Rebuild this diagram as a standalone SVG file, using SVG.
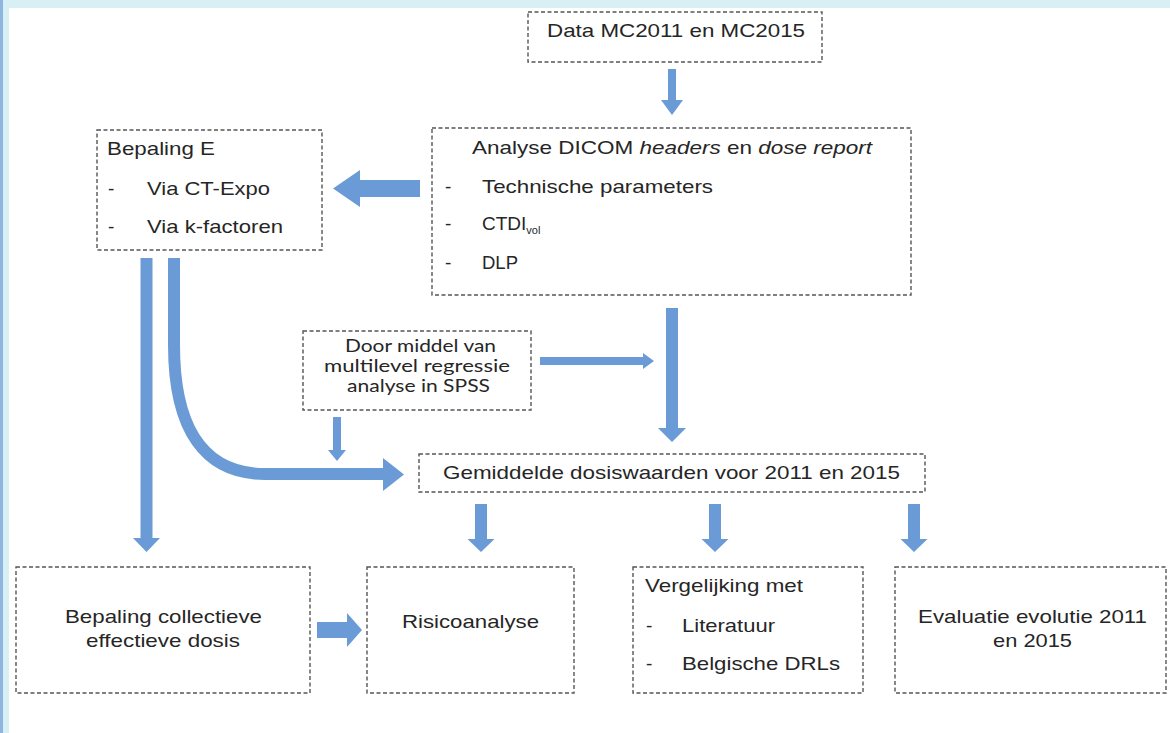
<svg xmlns="http://www.w3.org/2000/svg" width="1170" height="733" viewBox="0 0 1170 733">
<style>
.box{fill:#fff;stroke:#555;stroke-width:1.4;stroke-dasharray:4 2.5}
.t{font-family:"Liberation Sans",Arial,sans-serif;font-size:19px;fill:#262626}
.c{font-family:Lato,"Open Sans",sans-serif;font-size:16.5px;fill:#262626}
.arr{fill:#6b9bd6}
.arrs{fill:none;stroke:#6b9bd6;stroke-width:12}
</style>
<rect x="0" y="0" width="1170" height="733" fill="#fff"/>
<rect x="0" y="0" width="1170" height="8" fill="#d8eff3"/>
<rect x="0" y="0" width="9" height="733" fill="#d8eff3"/>
<rect x="0" y="0" width="3" height="733" fill="#8db5e2"/>

<g id="connectors">
<polygon class="arr" points="668,69 676,69 676,100 683,100 672,115 661,100 668,100"/>
<polygon class="arr" points="420,180 360,180 360,170 333,188.5 360,207 360,197 420,197"/>
<polygon class="arr" points="666,308 678,308 678,428 686,428 672,442 658,428 666,428"/>
<polygon class="arr" points="540,357 643,357 643,353 654,361 643,369 643,365 540,365"/>
<polygon class="arr" points="333,417 341,417 341,450 346,450 337,461 328,450 333,450"/>
<polygon class="arr" points="140.5,258 152.5,258 152.5,538 160,538 146.5,552 133,538 140.5,538"/>
<path class="arrs" d="M174,258 V345 C174,430 205,474 265,474 H384"/>
<polygon class="arr" points="383,458 404,474.5 383,491"/>
<polygon class="arr" points="475,504 487,504 487,539 494.5,539 481,552 467.5,539 475,539"/>
<polygon class="arr" points="709,504 721,504 721,539 728.5,539 715,552 701.5,539 709,539"/>
<polygon class="arr" points="908,504 920,504 920,539 927.5,539 914,552 900.5,539 908,539"/>
<polygon class="arr" points="317,622 347,622 347,613 362,630 347,647 347,638 317,638"/>
</g>

<g id="node-data">
<rect class="box" x="528" y="12" width="294" height="50"/>
<text class="t" x="547" y="37" textLength="258" lengthAdjust="spacingAndGlyphs">Data MC2011 en MC2015</text>
</g>

<g id="node-analyse">
<rect class="box" x="432" y="128" width="479" height="167"/>
<text class="t" x="472" y="154" textLength="400" lengthAdjust="spacingAndGlyphs">Analyse DICOM <tspan font-style="italic">headers</tspan> en <tspan font-style="italic">dose report</tspan></text>
<text class="t" x="445" y="193">-</text>
<text class="t" x="482" y="193" textLength="231" lengthAdjust="spacingAndGlyphs">Technische parameters</text>
<text class="t" x="445" y="230">-</text>
<text class="t" x="482" y="230">CTDI<tspan font-size="11" dy="4">vol</tspan></text>
<text class="t" x="445" y="269">-</text>
<text class="t" x="482" y="269" textLength="36" lengthAdjust="spacingAndGlyphs">DLP</text>
</g>

<g id="node-bepaling-e">
<rect class="box" x="97" y="130" width="225" height="120"/>
<text class="t" x="107" y="155" textLength="108" lengthAdjust="spacingAndGlyphs">Bepaling E</text>
<text class="t" x="108" y="195">-</text>
<text class="t" x="147" y="195" textLength="123" lengthAdjust="spacingAndGlyphs">Via CT-Expo</text>
<text class="t" x="108" y="233">-</text>
<text class="t" x="147" y="233" textLength="136" lengthAdjust="spacingAndGlyphs">Via k-factoren</text>
</g>

<g id="node-door-middel">
<rect class="box" x="303" y="331" width="228" height="79"/>
<text class="c" x="345" y="352" textLength="151" lengthAdjust="spacingAndGlyphs">Door middel van</text>
<text class="c" x="324" y="372" textLength="186" lengthAdjust="spacingAndGlyphs">multilevel regressie</text>
<text class="c" x="347" y="392" textLength="143" lengthAdjust="spacingAndGlyphs">analyse in SPSS</text>
</g>

<g id="node-gemiddelde">
<rect class="box" x="419" y="454" width="506" height="38"/>
<text class="t" x="443" y="479" textLength="457" lengthAdjust="spacingAndGlyphs">Gemiddelde dosiswaarden voor 2011 en 2015</text>
</g>

<g id="node-collectieve">
<rect class="box" x="16" y="567" width="294" height="126"/>
<text class="t" x="65" y="623" textLength="197" lengthAdjust="spacingAndGlyphs">Bepaling collectieve</text>
<text class="t" x="86" y="647" textLength="154" lengthAdjust="spacingAndGlyphs">effectieve dosis</text>
</g>

<g id="node-risico">
<rect class="box" x="367" y="567" width="207" height="126"/>
<text class="t" x="402" y="628" textLength="137" lengthAdjust="spacingAndGlyphs">Risicoanalyse</text>
</g>

<g id="node-vergelijking">
<rect class="box" x="633" y="567" width="230" height="126"/>
<text class="t" x="645" y="592" textLength="158" lengthAdjust="spacingAndGlyphs">Vergelijking met</text>
<text class="t" x="646" y="632">-</text>
<text class="t" x="682" y="632" textLength="93" lengthAdjust="spacingAndGlyphs">Literatuur</text>
<text class="t" x="646" y="670">-</text>
<text class="t" x="682" y="670" textLength="158" lengthAdjust="spacingAndGlyphs">Belgische DRLs</text>
</g>

<g id="node-evaluatie">
<rect class="box" x="895" y="567" width="271" height="126"/>
<text class="t" x="918" y="623" textLength="229" lengthAdjust="spacingAndGlyphs">Evaluatie evolutie 2011</text>
<text class="t" x="993" y="647" textLength="79" lengthAdjust="spacingAndGlyphs">en 2015</text>
</g>
</svg>
